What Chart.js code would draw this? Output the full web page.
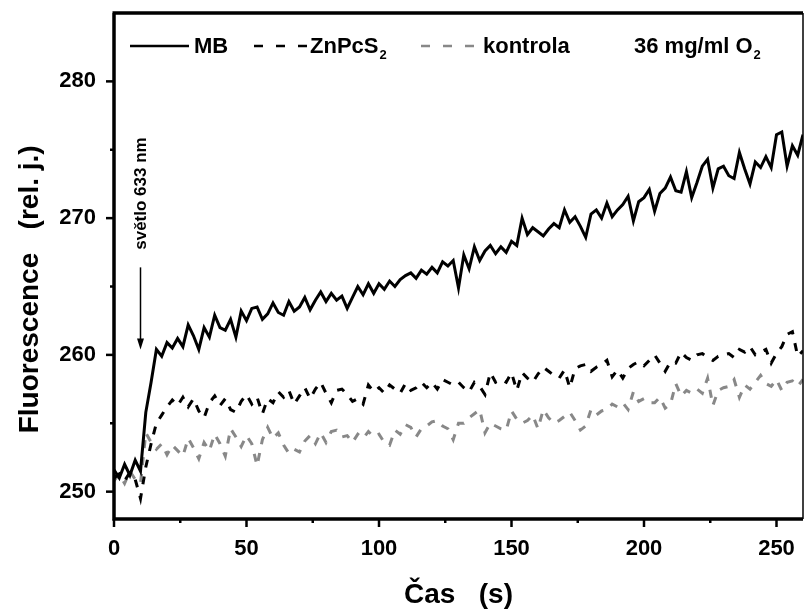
<!DOCTYPE html>
<html>
<head>
<meta charset="utf-8">
<script src="https://cdn.jsdelivr.net/npm/chart.js@4.4.0/dist/chart.umd.min.js"></script>
<style>
  html, body { margin: 0; padding: 0; background: #fff; }
</style>
</head>
<body>
<canvas id="fluo" width="804" height="610"></canvas>
<script>
// cas (s), samples every 2 s
var casS = [0,2,4,6,8,10,12,14,16,18, 20,22,24,26,28,30,32,34,36,38,
  40,42,44,46,48,50,52,54,56,58, 60,62,64,66,68,70,72,74,76,78,
  80,82,84,86,88,90,92,94,96,98, 100,102,104,106,108,110,112,114,116,118,
  120,122,124,126,128,130,132,134,136,138, 140,142,144,146,148,150,152,154,156,158,
  160,162,164,166,168,170,172,174,176,178, 180,182,184,186,188,190,192,194,196,198,
  200,202,204,206,208,210,212,214,216,218, 220,222,224,226,228,230,232,234,236,238,
  240,242,244,246,248,250,252,254,256,258, 260];

var mbData = [251.6,251.0,252.0,251.2,252.3,251.5,255.8,258.0,260.4,259.9,
  260.9,260.5,261.2,260.6,262.2,261.4,260.4,262.0,261.3,262.9,
  262.0,261.8,262.6,261.3,263.2,262.5,263.4,263.5,262.6,263.0,
  263.8,263.1,262.9,263.9,263.2,263.5,264.2,263.3,264.0,264.6,
  263.9,264.5,264.0,264.3,263.4,264.2,265.0,264.4,265.2,264.5,
  265.2,264.8,265.4,265.0,265.5,265.8,266.0,265.6,266.2,265.9,
  266.4,266.0,266.8,266.5,266.9,264.9,267.3,266.3,267.9,266.9,
  267.6,268.0,267.4,267.9,267.5,268.3,268.0,270.0,268.8,269.3,
  269.0,268.7,269.2,269.6,269.3,270.6,269.7,270.1,269.4,268.6,
  270.3,270.6,270.0,271.1,270.1,270.6,271.0,271.6,269.8,271.2,
  271.5,272.1,270.5,271.8,272.2,273.0,272.0,271.9,273.4,271.5,
  272.6,273.8,274.3,272.2,273.6,273.8,273.1,272.9,274.8,273.6,
  272.5,274.1,273.7,274.5,273.7,276.1,276.3,273.8,275.3,274.6,
  276.1];

var znpcData = [251.0,251.3,250.8,251.4,250.9,249.5,251.8,253.5,255.0,255.6,
  256.2,256.7,256.3,256.9,256.2,256.8,255.9,255.4,256.5,257.0,
  256.3,256.8,256.0,255.8,256.6,257.1,256.4,256.9,255.7,256.8,
  256.5,257.3,256.9,257.4,256.4,257.0,257.6,256.8,257.5,258.0,
  257.2,256.5,257.4,257.5,257.1,256.6,256.8,256.4,257.8,257.3,
  257.6,257.2,257.8,257.5,257.2,257.9,257.4,257.6,258.0,257.6,
  258.0,257.5,258.2,258.0,257.8,258.0,257.6,257.3,258.0,257.7,
  257.1,258.7,258.0,258.2,258.0,258.7,257.4,258.7,258.3,258.0,
  258.6,259.1,258.8,258.5,258.3,258.9,257.6,259.0,259.2,259.3,
  258.8,259.1,259.3,259.6,258.4,258.9,258.3,259.0,259.3,259.5,
  259.2,259.6,260.0,259.4,258.8,259.5,259.4,260.2,259.8,259.6,
  260.0,260.1,259.8,259.6,259.9,260.0,260.1,259.8,260.4,260.2,
  260.6,260.0,260.2,260.4,259.4,260.1,260.6,261.5,261.7,259.9,
  260.3];

var kontrolaData = [250.8,251.3,250.6,251.5,250.9,250.6,254.3,253.6,253.1,253.5,
  252.7,253.4,253.0,252.6,253.9,253.2,252.4,253.6,253.0,254.2,
  253.5,252.6,254.6,254.0,253.3,254.1,253.5,251.9,253.8,254.7,
  253.9,254.3,253.4,252.8,253.1,252.9,253.7,254.1,253.5,254.3,
  253.6,254.4,254.5,254.0,254.1,253.6,254.2,253.9,254.4,254.0,
  254.2,253.6,253.4,254.5,254.2,254.9,254.7,254.0,254.6,254.8,
  255.1,255.2,254.8,254.6,253.8,255.0,255.0,255.4,255.7,256.0,
  254.3,255.0,254.8,254.6,254.5,255.9,255.3,255.0,255.2,255.6,
  254.6,256.0,255.4,255.0,255.2,255.5,255.8,255.2,254.5,254.8,
  256.0,255.6,255.9,256.0,256.4,256.2,256.5,256.0,257.3,256.6,
  256.8,256.5,256.5,256.9,256.1,256.4,257.9,257.0,257.4,257.2,
  257.5,257.2,258.3,256.3,257.4,257.6,257.7,258.2,256.9,257.8,
  257.5,258.0,258.5,257.9,257.7,258.2,257.4,258.0,258.1,257.7,
  258.2];

var xTickLabels = [0, 50, 100, 150, 200, 250];
var yTickLabels = [250, 260, 270, 280];

// light switched on at 10 s
var svetloCas = 10;
var svetloArrowFrom = 266.4;
var svetloArrowTo = 260.4;
var svetloTextAt = 271.8;

var FONT = '"Liberation Sans", Arial, Helvetica, sans-serif';
Chart.defaults.font.family = FONT;
Chart.defaults.color = '#000';

function toPoints(values) {
  return casS.map(function (t, i) { return { x: t, y: values[i] }; });
}

// text with a subscript part (ZnPcS2, O2)
function drawSub(ctx, main, sub, x, y, size) {
  ctx.font = 'bold ' + size + 'px ' + FONT;
  ctx.textAlign = 'left';
  ctx.textBaseline = 'middle';
  ctx.fillText(main, x, y);
  var w = ctx.measureText(main).width;
  if (sub) {
    ctx.font = 'bold ' + Math.round(size * 0.6) + 'px ' + FONT;
    ctx.fillText(sub, x + w + 1, y + size * 0.38);
  }
}

// no extra room for half tick labels at the ends
function noEdgePadding(s) {
  s.paddingTop = 0; s.paddingBottom = 0;
  s.paddingLeft = 0; s.paddingRight = 0;
}

var framePlugin = {
  id: 'frame',
  afterDraw: function (chart) {
    var ctx = chart.ctx, a = chart.chartArea;
    var xs = chart.scales.x, ys = chart.scales.y;
    ctx.save();
    ctx.strokeStyle = '#000';
    ctx.lineCap = 'butt';

    // tick marks, outward, minor ones shorter
    ctx.lineWidth = 2.5;
    xs.ticks.forEach(function (t) {
      var px = xs.getPixelForValue(t.value);
      var len = xTickLabels.indexOf(t.value) >= 0 ? 8 : 4;
      ctx.beginPath();
      ctx.moveTo(px, a.bottom);
      ctx.lineTo(px, a.bottom + len);
      ctx.stroke();
    });
    ys.ticks.forEach(function (t) {
      if (t.value >= ys.max) return;
      var py = ys.getPixelForValue(t.value);
      var len = yTickLabels.indexOf(t.value) >= 0 ? 8 : 4;
      ctx.beginPath();
      ctx.moveTo(a.left, py);
      ctx.lineTo(a.left - len, py);
      ctx.stroke();
    });

    // frame
    ctx.lineWidth = 3.5;
    ctx.beginPath();
    ctx.moveTo(a.left, a.top);
    ctx.lineTo(a.left, a.bottom);
    ctx.lineTo(a.right, a.bottom);
    ctx.moveTo(a.left - 1.5, a.top);
    ctx.lineTo(a.right, a.top);
    ctx.stroke();
    ctx.lineWidth = 1.5;
    ctx.beginPath();
    ctx.moveTo(a.right, a.top);
    ctx.lineTo(a.right, a.bottom);
    ctx.stroke();

    // legend
    var ly = a.top + 33;
    ctx.fillStyle = '#000';
    ctx.lineWidth = 2.5;
    ctx.setLineDash([]);
    ctx.beginPath(); ctx.moveTo(130, ly); ctx.lineTo(189, ly); ctx.stroke();
    drawSub(ctx, 'MB', null, 194, ly + 1, 22);

    ctx.setLineDash([9, 13]);
    ctx.beginPath(); ctx.moveTo(254, ly); ctx.lineTo(307, ly); ctx.stroke();
    drawSub(ctx, 'ZnPcS', '2', 310, ly + 1, 22);

    ctx.strokeStyle = '#888';
    ctx.beginPath(); ctx.moveTo(421, ly); ctx.lineTo(476, ly); ctx.stroke();
    ctx.setLineDash([]);
    drawSub(ctx, 'kontrola', null, 483, ly + 1, 22);

    drawSub(ctx, '36 mg/ml O', '2', 634, ly + 1, 22);

    // světlo 633 nm marker
    var ax = xs.getPixelForValue(svetloCas);
    var y0 = ys.getPixelForValue(svetloArrowFrom);
    var y1 = ys.getPixelForValue(svetloArrowTo);
    ctx.strokeStyle = '#000';
    ctx.lineWidth = 1.5;
    ctx.beginPath(); ctx.moveTo(ax, y0); ctx.lineTo(ax, y1 - 6); ctx.stroke();
    ctx.beginPath();
    ctx.moveTo(ax, y1);
    ctx.lineTo(ax - 3.5, y1 - 11);
    ctx.lineTo(ax + 3.5, y1 - 11);
    ctx.closePath();
    ctx.fill();

    ctx.translate(ax + 1, ys.getPixelForValue(svetloTextAt));
    ctx.rotate(-Math.PI / 2);
    ctx.font = 'bold 17px ' + FONT;
    ctx.textAlign = 'center';
    ctx.textBaseline = 'middle';
    ctx.fillText('světlo 633 nm', 0, 0);
    ctx.restore();
  }
};

new Chart(document.getElementById('fluo'), {
  type: 'line',
  data: {
    datasets: [
      { label: 'MB', data: toPoints(mbData), borderColor: '#000', borderWidth: 3 },
      { label: 'ZnPcS2', data: toPoints(znpcData), borderColor: '#000', borderWidth: 3, borderDash: [8, 9] },
      { label: 'kontrola', data: toPoints(kontrolaData), borderColor: '#888', borderWidth: 3, borderDash: [8, 9] }
    ]
  },
  options: {
    responsive: false,
    animation: false,
    layout: { padding: { top: 13, right: 1, left: 0, bottom: 0 } },
    elements: { point: { radius: 0 }, line: { tension: 0 } },
    plugins: { legend: { display: false }, tooltip: { enabled: false } },
    scales: {
      x: {
        type: 'linear', min: 0, max: 260,
        afterFit: function (s) { s.height = 91; noEdgePadding(s); },
        grid: { display: false, drawTicks: false },
        border: { display: false },
        ticks: {
          stepSize: 25, includeBounds: false, autoSkip: false, maxRotation: 0,
          padding: 17, font: { size: 22, weight: 'bold' },
          callback: function (v) { return xTickLabels.indexOf(v) >= 0 ? String(v) : ''; }
        },
        title: { display: true, text: 'Čas   (s)', font: { size: 28, weight: 'bold' }, padding: { top: 0, bottom: -2 } }
      },
      y: {
        type: 'linear', min: 248, max: 285,
        afterFit: function (s) { s.width = 114; noEdgePadding(s); },
        grid: { display: false, drawTicks: false },
        border: { display: false },
        ticks: {
          stepSize: 5, includeBounds: false, autoSkip: false,
          padding: 18, font: { size: 22, weight: 'bold' },
          callback: function (v) { return yTickLabels.indexOf(v) >= 0 ? String(v) : ''; }
        },
        title: { display: true, text: 'Fluorescence   (rel. j.)      ', font: { size: 28, weight: 'bold' }, padding: { top: 13, bottom: 0 } }
      }
    }
  },
  plugins: [framePlugin]
});
</script>
</body>
</html>
